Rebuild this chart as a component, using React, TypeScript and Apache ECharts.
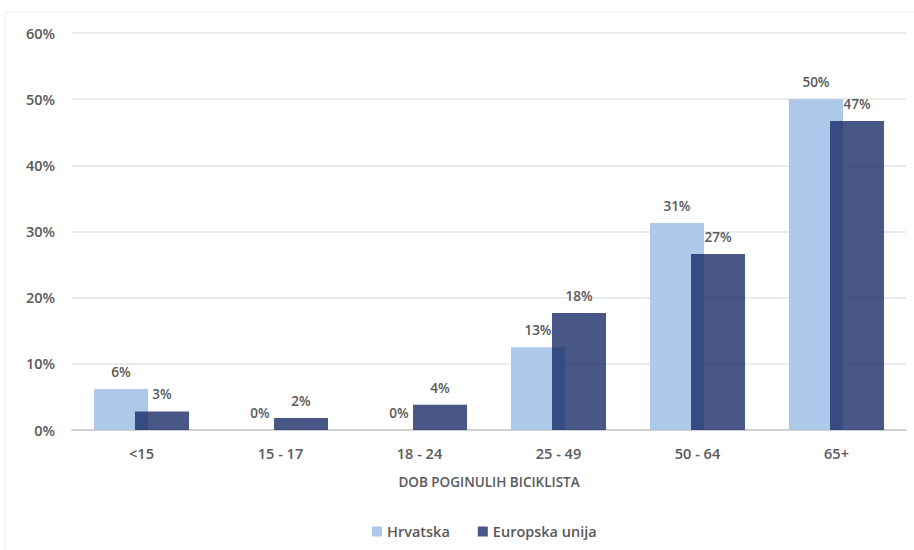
import React, { useEffect, useRef } from "react";
import * as echarts from "echarts";

const categories = ["<15", "15 - 17", "18 - 24", "25 - 49", "50 - 64", "65+"];
const hrvatska = [6.2, 0, 0, 12.5, 31.3, 50.0];
const europskaUnija = [2.8, 1.8, 3.8, 17.7, 26.6, 46.7];
const seriesNames = ["Hrvatska", "Europska unija"];
const axisTitle = "DOB POGINULIH BICIKLISTA";

const FONT = "'Open Sans', 'Liberation Sans', sans-serif";
const TEXT = "#595959";

export default function App() {
  const ref = useRef<HTMLDivElement>(null);
  useEffect(() => {
    document.body.style.margin = "0";
    if (!ref.current) return;
    const chart = echarts.init(ref.current, undefined, { renderer: "svg" });
    const label = {
      show: true,
      position: "top" as const,
      distance: 10,
      color: TEXT,
      fontSize: 13.5,
      fontWeight: 600,
      fontFamily: FONT,
      formatter: (p: any) => Math.round(p.value) + "%",
    };
    chart.setOption({
      animation: false,
      backgroundColor: "#ffffff",
      textStyle: { fontFamily: FONT },
      graphic: [
        {
          type: "rect",
          shape: { x: 5, y: 12, width: 920, height: 560 },
          style: { fill: "none", stroke: "#ececec", lineWidth: 1 },
          silent: true,
        },
      ],
      grid: { left: 72, right: 8, top: 33, bottom: 120, containLabel: false },
      legend: {
        data: seriesNames,
        bottom: 6,
        left: 367,
        itemWidth: 10,
        itemHeight: 10,
        itemGap: 28,
        icon: "rect",
        textStyle: { color: TEXT, fontSize: 14.5, fontWeight: 600, fontFamily: FONT },
      },
      xAxis: {
        type: "category",
        data: categories,
        name: axisTitle,
        nameLocation: "middle",
        nameGap: 45,
        nameTextStyle: { color: TEXT, fontSize: 13.5, fontWeight: 600, fontFamily: FONT },
        axisLine: { lineStyle: { color: "#d0d0d0", width: 2 } },
        axisTick: { show: false },
        axisLabel: { color: TEXT, fontSize: 14.5, fontWeight: 600, fontFamily: FONT, margin: 16 },
      },
      yAxis: {
        type: "value",
        min: 0,
        max: 60,
        interval: 10,
        axisLabel: {
          color: TEXT,
          fontSize: 14.5,
          fontWeight: 600,
          fontFamily: FONT,
          margin: 17,
          formatter: (v: number) => v + "%",
        },
        axisLine: { show: false },
        axisTick: { show: false },
        splitLine: { lineStyle: { color: "#e4e4e4", width: 1.5 } },
      },
      series: [
        {
          name: seriesNames[0],
          type: "bar",
          data: hrvatska,
          barWidth: 54,
          barGap: "-24%",
          itemStyle: { color: "#adc8e9" },
          label,
        },
        {
          name: seriesNames[1],
          type: "bar",
          data: europskaUnija,
          barWidth: 54,
          barGap: "-24%",
          itemStyle: { color: "rgba(20,40,100,0.78)" },
          label,
        },
      ],
    });
    return () => chart.dispose();
  }, []);
  return <div ref={ref} style={{ width: 914, height: 550 }} />;
}
